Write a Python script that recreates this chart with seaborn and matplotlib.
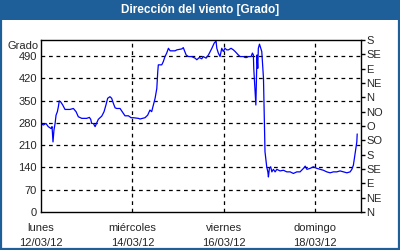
import matplotlib
matplotlib.use("Agg")
import matplotlib.pyplot as plt
from matplotlib.patches import Rectangle
import seaborn as sns
import pandas as pd

# ---- data (hours since 12/03/12 00:00, wind direction in degrees) ----
hours = [0, 1.2, 2.6, 3.8, 5.3, 5.8, 6.3, 6.8, 7.4, 7.9, 8.6, 9.1, 9.6, 10.3, 11.4, 12.6, 15.2, 17.0, 18.4, 19.6,
         21.4, 24.0, 25.4, 26.1, 26.6, 27.5, 28.4, 29.3, 30.1, 31.9, 33.1,
         34.1, 35.0, 36.2, 37.1, 38.0, 38.9, 39.8, 41.5, 43.2, 44.1, 45.9, 47.3, 48.5, 51.1, 52.0, 54.6, 56.0, 57.2,
         58.1, 59.0, 59.9, 60.8, 61.3, 61.6, 63.4, 64.2, 65.1, 66.0, 66.9, 67.8, 68.6, 70.4,
         71.3, 73.9, 74.7, 76.2, 77.4, 79.1, 80.9, 81.8, 83.1, 84.4, 85.2, 86.7, 87.9, 89.7, 90.9, 91.9, 92.3, 93.1,
         94.0, 94.9, 95.7, 96.6, 97.5,
         98.4, 99.8, 101.0, 101.9, 103.6, 104.5, 106.3, 107.1, 108.0, 108.9, 110.3, 111.0, 111.5, 111.7, 112.4, 112.8,
         113.1, 113.4, 113.8, 114.1, 114.7, 115.4, 115.9, 116.8, 117.3, 117.6, 118.5, 119.1, 119.4, 119.9, 120.6,
         121.2, 122.0, 122.9, 123.8, 125.5, 127.3, 129.0, 130.8, 132.5, 134.3, 136.0, 137.8, 138.7, 139.6, 141.3,
         143.0, 144.8, 146.5, 148.3, 150.0, 151.8, 153.5, 155.3, 157.0, 158.8, 160.6, 162.3, 163.2, 164.0, 164.9,
         165.8, 166.0]
grados = [278, 273, 278, 268, 262, 268, 220, 257, 278, 304, 315, 330, 349, 346, 336, 322, 322, 325, 315, 299,
          294, 294, 297, 291, 278, 278, 268, 280, 291, 301, 315,
          336, 357, 362, 357, 341, 327, 325, 325, 310, 302, 302, 296, 296, 294, 292, 296, 304, 320,
          315, 336, 357, 388, 441, 462, 462, 472, 488, 499, 514, 506, 506, 506,
          509, 512, 516, 493, 488, 488, 483, 478, 485, 481, 488, 483, 493, 514, 530, 537, 514, 499,
          488, 514, 504, 514, 509,
          509, 514, 509, 504, 493, 488, 488, 485, 485, 488, 488, 499, 493, 451, 378, 336,
          420, 493, 451, 514, 527, 514, 504, 420, 273, 189, 142, 126, 110, 137, 142,
          126, 134, 126, 134, 129, 131, 126, 126, 121, 126, 126, 137, 144, 134, 137,
          142, 137, 134, 131, 126, 123, 126, 126, 129, 126, 123, 126, 134, 147, 184,
          220, 245]

y_ticks = [0, 70, 140, 210, 280, 350, 420, 490]
x_major = [0, 48, 96, 144]
x_labels = ["lunes\n12/03/12", "miércoles\n14/03/12", "viernes\n16/03/12", "domingo\n18/03/12"]
x_minor = [24, 72, 120, 168]
dir_ticks = [0, 45, 90, 135, 180, 225, 270, 315, 360, 405, 450, 495, 540]
dir_labels = ["N", "NE", "E", "SE", "S", "SO", "O", "NO", "N", "NE", "E", "SE", "S"]
title = "Dirección del viento [Grado]"

sns.set_style("white")
plt.rcParams["font.family"] = ["Liberation Sans", "DejaVu Sans"]

BLUE = "#1f5f99"
fig = plt.figure(figsize=(4, 2.5), dpi=100)
fig.patch.set_facecolor("white")

# title bar and border
fig.patches.append(Rectangle((0, 0.92), 1, 0.08, transform=fig.transFigure,
                             facecolor=BLUE, edgecolor="none", zorder=0))
fig.patches.append(Rectangle((0.0025, 0.004), 0.995, 0.992, transform=fig.transFigure,
                             facecolor="none", edgecolor=BLUE, linewidth=1.6, zorder=5))
fig.text(0.5, 0.961, title, color="white", fontsize=8.5, fontweight="bold",
         ha="center", va="center")

ax = fig.add_axes([0.1025, 0.152, 0.8, 0.688])
df = pd.DataFrame({"h": hours, "g": grados})
sns.lineplot(data=df, x="h", y="g", ax=ax, color="#0000ff", linewidth=0.9)

ax.set_xlim(0, 168)
ax.set_ylim(0, 540)
ax.set_xlabel("")
ax.set_ylabel("")
ax.set_yticks(y_ticks)
ax.set_yticklabels([str(v) for v in y_ticks], fontsize=8)
ax.set_xticks(x_major)
ax.set_xticklabels(x_labels, fontsize=8, linespacing=1.6)
ax.set_xticks(x_minor, minor=True)
ax.tick_params(axis="y", length=0, pad=3)
ax.tick_params(axis="x", which="both", direction="in", length=3, width=1, color="black", pad=8)

for v in y_ticks[1:]:
    ax.axhline(v, color="black", linestyle=(0, (3, 3)), linewidth=0.9, zorder=1)
for v in x_major[1:]:
    ax.axvline(v, color="black", linestyle=(0, (3, 3)), linewidth=0.9, zorder=1)

for s in ax.spines.values():
    s.set_color("black")
    s.set_linewidth(1)
    s.set_visible(True)

ax2 = ax.twinx()
ax2.set_ylim(0, 540)
ax2.set_yticks(dir_ticks)
ax2.set_yticklabels(dir_labels, fontsize=8)
ax2.tick_params(axis="y", direction="out", length=3, width=1, color="black", pad=1)
for s in ax2.spines.values():
    s.set_visible(False)
ax2.grid(False)

fig.text(0.02, 0.816, "Grado", fontsize=8, ha="left", va="center")

fig.savefig("out.png", dpi=100)
